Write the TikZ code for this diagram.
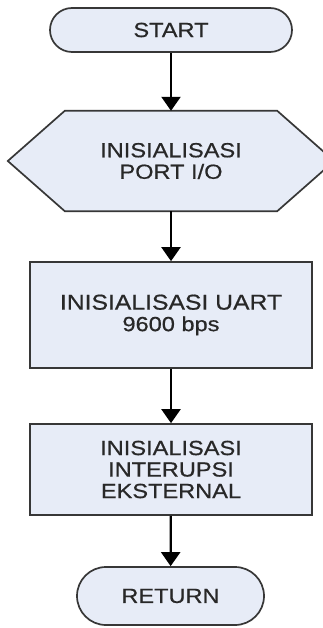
\documentclass[tikz,border=0pt]{standalone}
\usepackage{fontspec}
\newfontfamily\flowfont{Liberation Sans}[FakeStretch=1.15,FakeBold=0.6]
\usetikzlibrary{arrows.meta,calc}
\definecolor{boxfill}{RGB}{231,236,247}
\definecolor{boxline}{RGB}{55,55,55}
\definecolor{boxtext}{RGB}{40,40,40}
\tikzset{
  flowtext/.style={font=\flowfont\fontsize{20.5}{21.5}\selectfont, text=boxtext, align=center, inner sep=0pt},
  terminal/.style={flowtext, draw=boxline, fill=boxfill, line width=1.7pt, rounded corners=22pt},
  process/.style={flowtext, draw=boxline, fill=boxfill, line width=1.7pt},
  flow/.style={line width=2.3pt, black, -{Triangle[width=19pt,length=14pt]}}
}
\begin{document}
\begin{tikzpicture}[x=1pt,y=-1pt]
  \useasboundingbox (0,0) rectangle (323,628);
  \fill[white] (0,0) rectangle (323,628);

  % start terminal
  \node[terminal, minimum width=242pt, minimum height=44pt] (start) at (171,30) {START};

  % hexagonal preparation block
  \node[flowtext, minimum width=212pt, minimum height=100pt] (init) at (171,161) {};
  \begin{scope}
    \clip (0,0) rectangle (323,628);
    \draw[draw=boxline, fill=boxfill, line width=1.7pt]
      (init.north west) -- (init.north east) -- ($(init.east)+(57,0)$)
      -- (init.south east) -- (init.south west) -- ($(init.west)+(-57,0)$) -- cycle;
  \end{scope}
  \node[flowtext] at (init) {INISIALISASI\\PORT I/O};

  % process boxes
  \node[process, minimum width=282pt, minimum height=106pt] (uart) at (171,315)
    {\fontsize{21.5}{24}\selectfont INISIALISASI UART\\9600 bps};
  \node[process, minimum width=282pt, minimum height=91pt] (ext) at (171,469.5)
    {INISIALISASI\\INTERUPSI\\EKSTERNAL};

  % return terminal
  \node[terminal, minimum width=187pt, minimum height=58pt, rounded corners=29pt] (ret) at (170.5,596) {RETURN};

  % connectors
  \draw[flow] (start) -- (init);
  \draw[flow] (init) -- (uart);
  \draw[flow] (uart) -- (ext);
  \draw[flow] (ext) -- (ret);
\end{tikzpicture}
\end{document}
